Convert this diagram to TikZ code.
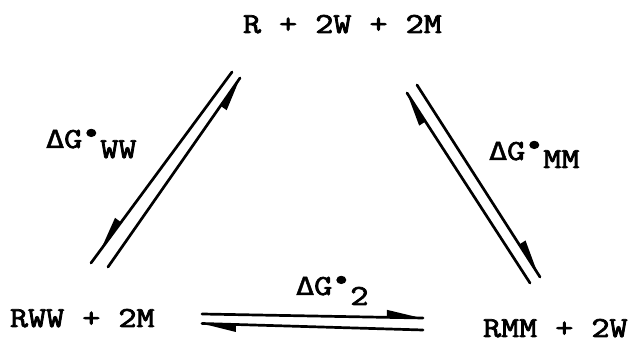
\documentclass[tikz,border=0pt]{standalone}
\usepackage{fontspec}
\newfontfamily\dvm{DejaVu Sans Mono}[FakeBold=1.5]
\newfontfamily\twf{Latin Modern Mono}[FakeBold=2.5]
\usetikzlibrary{calc}
\newcommand{\tw}[1]{\scalebox{1.21}[1]{#1}}
\newcommand{\dlt}{{\dvm\fontsize{25}{30}\selectfont Δ}}
\tikzset{
  rxn/.style={line width=2.7pt, line cap=round},
  lbl/.style={anchor=base west, inner sep=0pt, outer sep=0pt, font=\twf\fontsize{29}{34}\selectfont},
  barbfill/.style={fill=black},
}
\newcommand{\mybarb}[3]{%
  \coordinate (bk) at ($(#1)!34pt!(#2)$);
  \fill[barbfill] (#1) -- (bk) -- ($(bk)!7.5pt!#3:(#1)$) -- cycle;}
\begin{document}
\begin{tikzpicture}[x=1pt,y=-1pt]
\useasboundingbox (0,0) rectangle (635,344);
% species
\node[lbl] (top) at (243,33) {\tw{R + 2W + 2M}};
\node[lbl] (rww) at (10,327) {\tw{RWW + 2M}};
\node[lbl] (rmm) at (483,337) {\tw{RMM + 2W}};
% free energy labels
\node[lbl] (gww) at (46,148) {\tw{\dlt G\raisebox{8pt}{•}\raisebox{-10pt}{WW}}};
\node[lbl] (gmm) at (489,160) {\tw{\dlt G\raisebox{8pt}{•}\raisebox{-8pt}{MM}}};
\node[lbl] (g2) at (296,295) {\tw{\dlt G\raisebox{8pt}{•}\raisebox{-10pt}{2}}};
% left pair
\coordinate (L1a) at (232,72);
\coordinate (L1b) at (91,263);
\coordinate (L2a) at (108,267);
\coordinate (L2b) at (240,78);
\draw[rxn] (L1a) -- (L1b);
\draw[rxn] (L2a) -- (L2b);
\coordinate (L1t) at ($(L1a)!0.93!(L1b)$);
\mybarb{L1t}{L1a}{-90}
\mybarb{L2b}{L2a}{-90}
% right pair
\coordinate (RAa) at (530,283);
\coordinate (RAb) at (407,93);
\coordinate (RBa) at (417,85);
\coordinate (RBb) at (540,277);
\draw[rxn] (RAa) -- (RAb);
\draw[rxn] (RBa) -- (RBb);
\mybarb{RAb}{RAa}{90}
\coordinate (RBt) at ($(RBa)!0.98!(RBb)$);
\mybarb{RBt}{RBa}{90}
% bottom pair
\coordinate (BUa) at (202,314);
\coordinate (BUb) at (423,318);
\coordinate (BLa) at (423,330);
\coordinate (BLb) at (202,323.5);
\draw[rxn] (BUa) -- (BUb);
\draw[rxn] (BLa) -- (BLb);
\coordinate (BUt) at ($(BUa)!0.99!(BUb)$);
\mybarb{BUt}{BUa}{90}
\mybarb{BLb}{BLa}{90}
\end{tikzpicture}
\end{document}
